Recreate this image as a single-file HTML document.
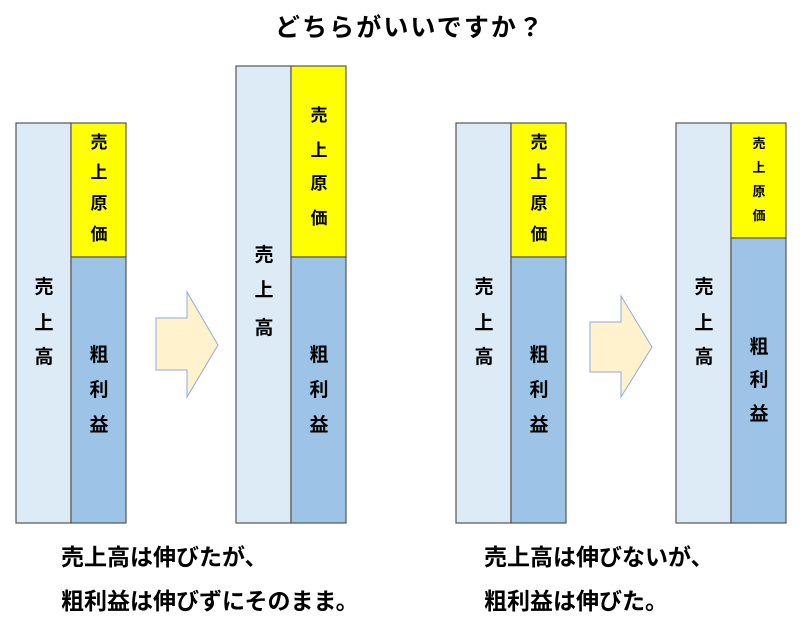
<!DOCTYPE html>
<html><head><meta charset="utf-8"><style>
html,body{margin:0;padding:0;background:#fff;}
svg text{font-family:"Liberation Sans","Noto Sans CJK JP",sans-serif;fill:#000;}
</style></head><body>
<svg width="800" height="618" viewBox="0 0 800 618" xmlns="http://www.w3.org/2000/svg">
<text x="275" y="36" font-size="25" font-weight="bold" textLength="268">どちらがいいですか？</text>
<g stroke="#555" stroke-width="1.2">
<rect x="16" y="123" width="55" height="400" fill="#DDEBF7"/>
<rect x="71" y="123" width="55" height="134" fill="#FFFF00"/>
<rect x="71" y="257" width="55" height="266" fill="#9DC3E6"/>
<rect x="236" y="66" width="55" height="457" fill="#DDEBF7"/>
<rect x="291" y="66" width="55" height="191" fill="#FFFF00"/>
<rect x="291" y="257" width="55" height="266" fill="#9DC3E6"/>
<rect x="456" y="123" width="55" height="400" fill="#DDEBF7"/>
<rect x="511" y="123" width="55" height="134" fill="#FFFF00"/>
<rect x="511" y="257" width="55" height="266" fill="#9DC3E6"/>
<rect x="676" y="123" width="55" height="400" fill="#DDEBF7"/>
<rect x="731" y="123" width="55" height="115" fill="#FFFF00"/>
<rect x="731" y="238" width="55" height="285" fill="#9DC3E6"/>
</g>
<g fill="#FFF2CC" stroke="#8FAADC" stroke-width="1">
<polygon points="156,318 187,318 187,292 218,345 187,397 187,370 156,370"/>
<polygon points="590,322 621,322 621,296 652,347 621,397 621,372 590,372"/>
</g>
<g font-size="19" font-weight="bold" text-anchor="middle">
<text x="44" y="293">売</text><text x="44" y="329">上</text><text x="44" y="363">高</text>
<text x="264" y="261">売</text><text x="264" y="296">上</text><text x="264" y="334">高</text>
<text x="484" y="293">売</text><text x="484" y="329">上</text><text x="484" y="363">高</text>
<text x="704" y="293">売</text><text x="704" y="329">上</text><text x="704" y="363">高</text>
<text x="99" y="361">粗</text><text x="99" y="396">利</text><text x="99" y="431">益</text>
<text x="319" y="361">粗</text><text x="319" y="396">利</text><text x="319" y="431">益</text>
<text x="539" y="361">粗</text><text x="539" y="396">利</text><text x="539" y="431">益</text>
<text x="759" y="353">粗</text><text x="759" y="386">利</text><text x="759" y="420">益</text>
</g>
<g font-size="17" font-weight="bold" text-anchor="middle">
<text x="99" y="148">売</text><text x="99" y="178">上</text><text x="99" y="209">原</text><text x="99" y="240">価</text>
<text x="319" y="121">売</text><text x="319" y="156">上</text><text x="319" y="189">原</text><text x="319" y="224">価</text>
<text x="539" y="148">売</text><text x="539" y="178">上</text><text x="539" y="209">原</text><text x="539" y="240">価</text>
</g>
<g font-size="13" font-weight="bold" text-anchor="middle">
<text x="759" y="148">売</text><text x="759" y="172">上</text><text x="759" y="196">原</text><text x="759" y="220">価</text>
</g>
<g font-size="23" font-weight="bold">
<text x="61" y="565">売上高は伸びたが、</text>
<text x="61" y="609">粗利益は伸びずにそのまま。</text>
<text x="484" y="565">売上高は伸びないが、</text>
<text x="484" y="609">粗利益は伸びた。</text>
</g>
</svg>
</body></html>
